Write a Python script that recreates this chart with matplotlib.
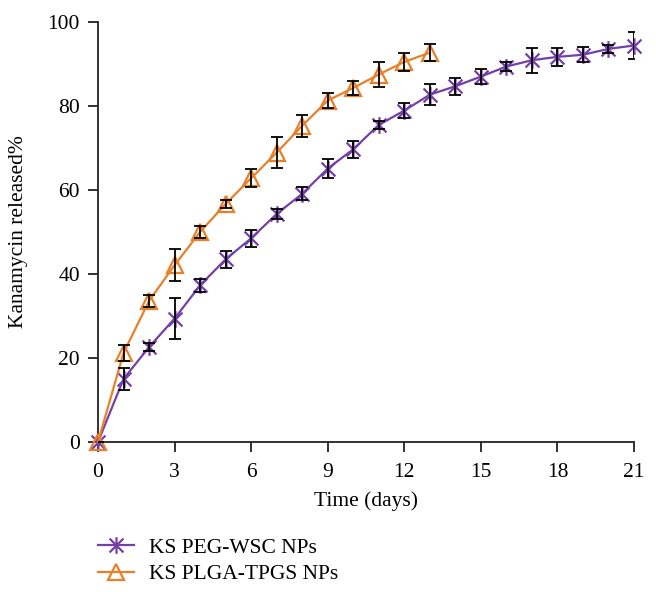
import matplotlib
matplotlib.use('Agg')
from matplotlib import pyplot as plt
from matplotlib.path import Path

# data
days_peg = [0, 1, 2, 3, 4, 5, 6, 7, 8, 9, 10, 11, 12, 13, 14, 15, 16, 17, 18, 19, 20, 21]
rel_peg = [0, 15.0, 22.6, 29.4, 37.3, 43.5, 48.5, 54.3, 59.1, 65.1, 69.7, 75.5, 78.9, 82.7,
           84.7, 87.0, 89.4, 90.9, 91.7, 92.2, 93.6, 94.4]
err_peg = [0, 2.7, 1.0, 4.8, 1.5, 2.0, 2.0, 1.2, 1.5, 2.3, 2.0, 1.0, 1.8, 2.5,
           2.0, 1.8, 1.0, 3.0, 2.2, 1.8, 1.0, 3.2]

days_plga = [0, 1, 2, 3, 4, 5, 6, 7, 8, 9, 10, 11, 12, 13]
rel_plga = [0, 21.2, 33.6, 42.1, 50.0, 56.7, 62.8, 68.9, 75.3, 81.3, 84.3, 87.5, 90.5, 92.7]
err_plga = [0, 1.9, 1.5, 3.8, 1.5, 1.0, 2.2, 3.7, 2.6, 1.8, 1.7, 2.9, 2.2, 2.0]

labels = ['KS PEG-WSC NPs', 'KS PLGA-TPGS NPs']
xticks = [0, 3, 6, 9, 12, 15, 18, 21]
yticks = [0, 20, 40, 60, 80, 100]

purple = '#7440a8'
orange = '#e8802a'

# x with a vertical bar through it
star_marker = Path([(-1, -1), (1, 1), (-1, 1), (1, -1), (0, -1.2), (0, 1.2)],
                   [Path.MOVETO, Path.LINETO, Path.MOVETO, Path.LINETO, Path.MOVETO, Path.LINETO])

plt.rcParams['font.family'] = ['Liberation Serif', 'DejaVu Serif']
plt.rcParams['font.size'] = 15

fig = plt.figure(figsize=(6.56, 5.92), dpi=100)
ax = fig.add_axes([98/656, 1-442/592, 536/656, 420/592])

peg_style = dict(color=purple, lw=1.6, marker=star_marker, markersize=12,
                 markeredgewidth=1.6, label=labels[0])
plga_style = dict(color=orange, lw=1.6, marker='^', markersize=11, markerfacecolor='none',
                  markeredgewidth=1.6, label=labels[1])

ax.errorbar(days_peg, rel_peg, yerr=err_peg, fmt='none', ecolor='black', elinewidth=1.3,
            capsize=4, capthick=1.3, zorder=4)
ax.errorbar(days_plga, rel_plga, yerr=err_plga, fmt='none', ecolor='black', elinewidth=1.3,
            capsize=4, capthick=1.3, zorder=4)
ax.plot(days_peg, rel_peg, zorder=3, clip_on=False, **peg_style)
ax.plot(days_plga, rel_plga, zorder=3, clip_on=False, **plga_style)

ax.set_xlim(0, 21)
ax.set_ylim(0, 100)
ax.set_xticks(xticks)
ax.set_yticks(yticks)
for s in ['top', 'right']:
    ax.spines[s].set_visible(False)
for s in ['left', 'bottom']:
    ax.spines[s].set_linewidth(1.3)
    ax.spines[s].set_color('#222222')
    ax.spines[s].set_zorder(2)
ax.tick_params(axis='both', direction='out', length=7, width=1.3, color='#222222', labelsize=15.5)
ax.tick_params(axis='x', pad=8)
ax.tick_params(axis='y', pad=6)
ax.set_xlabel('Time (days)', fontsize=15.5, labelpad=7)
ax.set_ylabel('Kanamycin released%', fontsize=15.5, labelpad=14)
ax.patch.set_visible(False)

leg = ax.legend(loc='upper left', bbox_to_anchor=(0.0, -0.228), frameon=False, fontsize=15.5,
                handlelength=1.65, handletextpad=0.7, labelspacing=0.3, borderaxespad=0,
                borderpad=0)

fig.savefig('out.png', dpi=100)
